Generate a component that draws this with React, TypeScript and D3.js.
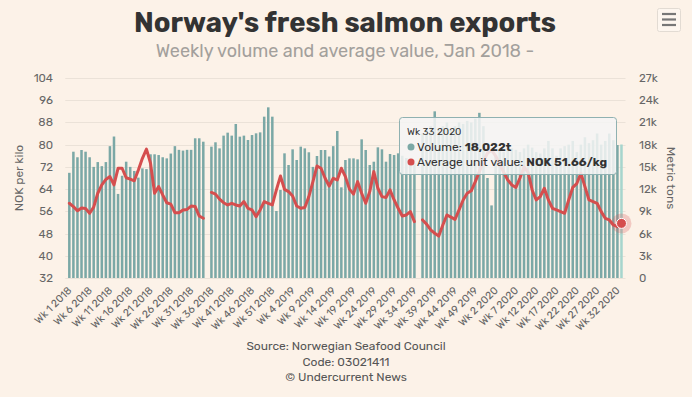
import React from 'react';
import * as d3 from 'd3';

// ---------- DATA ----------
const years = [2018, 2019, 2020];
const weeksPerYear = [52, 52, 33];
const categories: string[] = [];
years.forEach((y, i) => {
  for (let w = 1; w <= weeksPerYear[i]; w++) categories.push(`Wk ${w} ${y}`);
});

// Weekly volume, metric tons
const volume2018: (number | null)[] = [
  14200, 17050, 16300, 17280, 17050, 16300, 15000, 15650, 15100, 15650,
  17800, 19100, 11350, 13800, 15700, 15000, 14450, 13550, 14800, 14700,
  16700, 16700, 16600, 16300, 16150, 16800, 17800, 17300, 17200, 17300,
  17300, 18860, 18860, 18400, null, 17730, 18320, 17500, 19220, 19620,
  19220, 20790, 19080, 19220, 18630, 19300, 19530, 19660, 21780, 23040,
  21780, 9045,
];
const volume2019: (number | null)[] = [
  11880, 16830, 15255, 17370, 15930, 17730, 17500, 16970, 15000, 16470,
  17280, 17280, 16400, 17800, 19850, 12240, 15930, 16150, 16150, 16020,
  18720, 17280, 15255, 15700, 17640, 17370, 15700, 16740, 16600, 16830,
  16500, 16200, 16000, 15500, null, 19500, 20000, 20500, 22500, 20000,
  20500, 21000, 20000, 20500, 21000, 20800, 21200, 21000, 21500, 22300,
  20500, 13500,
];
const volume2020: (number | null)[] = [
  9800, 16500, 17500, 17000, 17800, 17500, 17300, 17000, 17500, 18000,
  17600, 17000, 16800, 17500, 18500, 17500, 16500, 17500, 17800, 18000,
  18500, 17000, 18000, 19000, 18200, 18600, 19500, 18000, 18500, 19500,
  18600, 17950, 18022,
];

// Average unit value, NOK per kilo
const price2018: (number | null)[] = [
  58.9, 57.7, 56.2, 57.2, 57.0, 55.3, 57.5, 62.5, 65.5, 67.5,
  68.5, 65.5, 71.5, 71.5, 68.1, 67.6, 67.0, 70.9, 75.1, 78.4,
  73.3, 62.5, 64.9, 61.9, 59.1, 58.6, 55.5, 55.5, 56.5, 56.7,
  57.9, 57.7, 54.3, 53.5, null, 62.8, 62.2, 60.4, 59.1, 58.3,
  58.9, 58.3, 57.9, 59.5, 57.1, 56.5, 54.1, 56.5, 59.5, 58.9,
  58.3, 63.7,
];
const price2019: (number | null)[] = [
  68.7, 63.9, 63.1, 61.5, 57.9, 57.1, 57.4, 61.3, 66.7, 72.3,
  71.5, 67.9, 65.1, 67.9, 67.3, 71.5, 68.5, 64.0, 62.2, 66.7,
  62.5, 58.9, 63.1, 70.3, 64.3, 61.3, 61.0, 63.7, 60.1, 57.1,
  54.3, 54.7, 55.9, 52.3, null, 52.9, 51.4, 49.3, 48.1, 47.1,
  51.1, 54.7, 53.9, 53.1, 56.5, 60.1, 62.5, 63.4, 66.7, 70.3,
  74.0, 77.0,
];
const price2020: (number | null)[] = [
  78.0, 76.0, 73.0, 70.0, 67.3, 65.5, 64.6, 68.0, 72.0, 70.0,
  63.7, 60.1, 61.3, 64.3, 60.1, 57.1, 56.5, 55.9, 55.3, 60.1,
  64.6, 66.0, 69.7, 64.9, 60.1, 59.5, 58.9, 55.9, 53.5, 52.9,
  51.1, 50.5, 51.66,
];

const volumes = [...volume2018, ...volume2019, ...volume2020];
const prices = [...price2018, ...price2019, ...price2020];

const leftTicks = [32, 40, 48, 56, 64, 72, 80, 88, 96, 104];
const rightTicks = [0, 3000, 6000, 9000, 12000, 15000, 18000, 21000, 24000, 27000];
const rightTickLabels = ['0', '3k', '6k', '9k', '12k', '15k', '18k', '21k', '24k', '27k'];

const titleText = "Norway's fresh salmon exports";
const subtitleText = 'Weekly volume and average value, Jan 2018 -';
const creditLines = ['Source: Norwegian Seafood Council', 'Code: 03021411', '© Undercurrent News'];

// ---------- STYLE ----------
const W = 692;
const H = 397;
const plotLeft = 67.3;
const plotRight = 623.5;
const plotTop = 78;
const plotBottom = 278;
const FONT = "Rubik, 'Noto Sans', 'Open Sans', sans-serif";
const BG = '#fcf2e8';
const BAR = '#7ba8a6';
const BAR_HOVER = '#a6d5cd';
const LINE = '#d54e4e';
const GRID = '#ebe2d8';
const LABEL = '#666666';

export default function App() {
  const n = categories.length;
  const hoverIndex = n - 1;
  const x = d3
    .scaleBand<number>()
    .domain(d3.range(n))
    .range([plotLeft, plotRight])
    .paddingInner(0.38)
    .paddingOuter(0.19);
  const yLeft = d3.scaleLinear().domain([32, 104]).range([plotBottom, plotTop]);
  const yRight = d3.scaleLinear().domain([0, 27000]).range([plotBottom, plotTop]);
  const cx = (i: number) => (x(i) as number) + x.bandwidth() / 2;

  const line = d3
    .line<number | null>()
    .defined((d) => d !== null)
    .x((_, i) => cx(i))
    .y((d) => yLeft(d as number))
    .curve(d3.curveLinear);

  const lastVol = volumes[hoverIndex] as number;
  const lastPrice = prices[hoverIndex] as number;
  const hx = cx(hoverIndex);
  const hy = yLeft(lastPrice);

  const tipX = 399;
  const tipY = 117;
  const tipW = 217;
  const tipH = 57;

  return (
    <svg
      width={W}
      height={H}
      style={{ position: 'absolute', left: 0, top: 0, fontFamily: FONT }}
    >
      <rect x={0} y={0} width={W} height={H} fill={BG} />

      {/* title */}
      <text x={345} y={32} textAnchor="middle" fontSize={27.5} fontWeight={700} fill="#333333">
        {titleText}
      </text>
      <text x={345} y={57} textAnchor="middle" fontSize={18} fill="#a3a09c">
        {subtitleText}
      </text>

      {/* hamburger */}
      <g>
        <rect x={657.5} y={8.5} width={23} height={23} rx={2} fill="#fdf6ef" stroke="#e2dbd3" />
        {[14, 19.5, 25].map((yy) => (
          <line key={yy} x1={662} x2={676} y1={yy} y2={yy} stroke="#777" strokeWidth={2.2} />
        ))}
      </g>

      {/* grid */}
      {leftTicks.map((t) => (
        <line
          key={'g' + t}
          x1={plotLeft - 2}
          x2={plotRight + 2}
          y1={Math.round(yLeft(t)) + 0.5}
          y2={Math.round(yLeft(t)) + 0.5}
          stroke={GRID}
        />
      ))}

      {/* left axis */}
      {leftTicks.map((t) => (
        <text key={'l' + t} x={53} y={yLeft(t) + 4} textAnchor="end" fontSize={11.5} fill={LABEL}>
          {t}
        </text>
      ))}
      <text
        transform={`translate(23,${(plotTop + plotBottom) / 2}) rotate(-90)`}
        textAnchor="middle"
        fontSize={12}
        fill={LABEL}
      >
        NOK per kilo
      </text>

      {/* right axis */}
      {rightTicks.map((t, i) => (
        <text key={'r' + t} x={639} y={yRight(t) + 4} textAnchor="start" fontSize={11.5} fill={LABEL}>
          {rightTickLabels[i]}
        </text>
      ))}
      <text
        transform={`translate(667,${(plotTop + plotBottom) / 2}) rotate(90)`}
        textAnchor="middle"
        fontSize={12}
        fill={LABEL}
      >
        Metric tons
      </text>

      {/* bars */}
      {volumes.map((v, i) =>
        v === null ? null : (
          <rect
            key={'b' + i}
            x={x(i)}
            y={yRight(v)}
            width={x.bandwidth()}
            height={plotBottom - yRight(v)}
            fill={i === hoverIndex ? BAR_HOVER : BAR}
          />
        )
      )}

      {/* line */}
      <path
        d={line(prices) || ''}
        fill="none"
        stroke={LINE}
        strokeWidth={3}
        strokeLinejoin="round"
        strokeLinecap="round"
      />
      <circle cx={hx} cy={hy} r={10} fill={LINE} opacity={0.25} />
      <circle cx={hx} cy={hy} r={5} fill={LINE} stroke="#fff" strokeWidth={1} />

      {/* x axis labels */}
      {categories.map((c, i) =>
        i % 5 === 0 ? (
          <text
            key={'x' + i}
            transform={`translate(${cx(i) + 3},${plotBottom + 13}) rotate(-45)`}
            textAnchor="end"
            fontSize={10.5}
            fill={LABEL}
          >
            {c}
          </text>
        ) : null
      )}

      {/* credits */}
      {creditLines.map((c, i) => (
        <text key={'c' + i} x={346} y={350 + i * 15.5} textAnchor="middle" fontSize={12} fill="#555555">
          {c}
        </text>
      ))}

      {/* tooltip */}
      <g>
        <rect
          x={tipX + 1}
          y={tipY + 1}
          width={tipW}
          height={tipH}
          rx={3}
          fill="#000"
          opacity={0.06}
        />
        <rect
          x={tipX + 0.5}
          y={tipY + 0.5}
          width={tipW}
          height={tipH}
          rx={3}
          fill="rgba(247,247,247,0.85)"
          stroke="#8fb1b1"
        />
        <text x={407} y={135} fontSize={10} fill="#333">
          {categories[hoverIndex]}
        </text>
        <circle cx={411} cy={147} r={3.5} fill={BAR} />
        <text x={417} y={151} fontSize={12} fill="#333">
          Volume: <tspan fontWeight={700}>{d3.format(',')(lastVol)}t</tspan>
        </text>
        <circle cx={411} cy={162} r={3.5} fill={LINE} />
        <text x={417} y={166} fontSize={12} fill="#333">
          Average unit value: <tspan fontWeight={700}>NOK {lastPrice.toFixed(2)}/kg</tspan>
        </text>
      </g>
    </svg>
  );
}
